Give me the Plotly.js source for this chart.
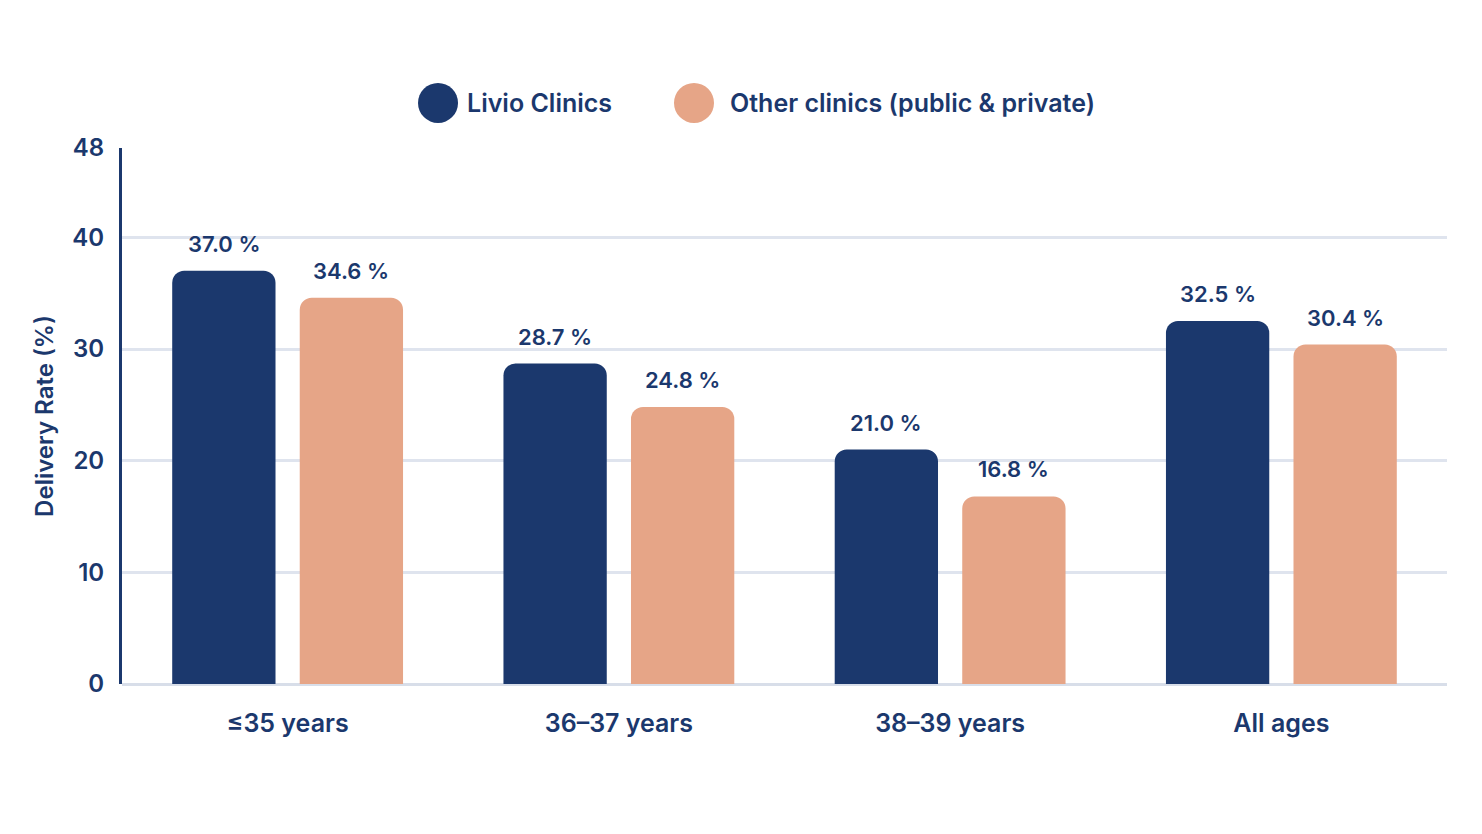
<!DOCTYPE html>
<html>
<head>
<meta charset="utf-8">
<script src="https://cdn.plot.ly/plotly-3.0.1.min.js"></script>
<style>
  html, body { margin: 0; padding: 0; background: #ffffff; }
  #chart { width: 1482px; height: 834px; }
</style>
</head>
<body>
<div id="chart"></div>
<script>
// age groups and delivery rates (%)
var ageGroups = ["\u226435 years", "36\u201337 years", "38\u201339 years", "All ages"];
var livioRates = [37.0, 28.7, 21.0, 32.5];
var otherRates = [34.6, 24.8, 16.8, 30.4];
var seriesNames = ["Livio Clinics", "Other clinics (public & private)"];
var yTicks = [0, 10, 20, 30, 40, 48];

var navy = "#1b386d";
var salmon = "#e6a587";
var fontFam = "Inter, 'Noto Sans', sans-serif";

var plotW = 1482 - 122 - 35;
var bargap = 0.23;
var slotW = plotW / ageGroups.length * (1 - bargap) / 2;

function barTrace(name, vals, color) {
  return {
    type: "bar",
    name: name,
    x: ageGroups,
    y: vals,
    marker: { color: color, cornerradius: 12 },
    hoverinfo: "x+y",
    showlegend: false
  };
}

var data = [
  barTrace(seriesNames[0], livioRates, navy),
  barTrace(seriesNames[1], otherRates, salmon)
];

var annotations = [];
// value labels above each bar
[livioRates, otherRates].forEach(function (vals, s) {
  vals.forEach(function (v, k) {
    annotations.push({
      x: ageGroups[k], y: v, xref: "x", yref: "y",
      xshift: (s === 0 ? -1 : 1) * slotW / 2,
      yshift: 12, yanchor: "bottom", xanchor: "center",
      showarrow: false, text: v.toFixed(1) + " %",
      font: { family: fontFam, size: 22, color: navy, weight: 600 }
    });
  });
});

// hand-made legend with big round markers
var legendColors = [navy, salmon];
var legendX = [0.2385, 0.4317];
var shapes = [];
for (var i = 0; i < seriesNames.length; i++) {
  shapes.push({
    type: "circle", xref: "paper", yref: "paper",
    xsizemode: "pixel", ysizemode: "pixel",
    xanchor: legendX[i], yanchor: 1.084,
    x0: -20, x1: 20, y0: -20, y1: 20,
    fillcolor: legendColors[i], line: { width: 0 }
  });
  annotations.push({
    xref: "paper", yref: "paper", x: legendX[i], y: 1.084,
    xanchor: "left", yanchor: "middle", xshift: i === 0 ? 27 : 34,
    showarrow: false, text: seriesNames[i],
    font: { family: fontFam, size: 25, color: navy, weight: 600 }
  });
}

var layout = {
  width: 1482,
  height: 834,
  paper_bgcolor: "#ffffff",
  plot_bgcolor: "#ffffff",
  margin: { l: 122, r: 35, t: 148, b: 150 },
  barmode: "group",
  bargap: bargap,
  bargroupgap: 0.19,
  showlegend: false,
  font: { family: fontFam, color: navy },
  xaxis: {
    type: "category",
    tickfont: { family: fontFam, size: 25, color: navy, weight: 600 },
    ticks: "",
    ticklabelstandoff: 22,
    showgrid: false,
    showline: false,
    zeroline: false
  },
  yaxis: {
    range: [0, 48],
    tickvals: yTicks,
    ticktext: yTicks.map(String),
    tickfont: { family: fontFam, size: 24, color: navy, weight: 600 },
    ticks: "",
    ticklabelstandoff: 10,
    showgrid: true,
    gridcolor: "#dfe4ee",
    gridwidth: 3,
    zeroline: true,
    zerolinecolor: "#d8dee9",
    zerolinewidth: 3,
    showline: true,
    linecolor: navy,
    linewidth: 3,
    title: {
      text: "Delivery Rate (%)",
      font: { family: fontFam, size: 24, color: navy, weight: 600 },
      standoff: 12
    }
  },
  shapes: shapes,
  annotations: annotations
};

Plotly.newPlot("chart", data, layout, { displayModeBar: false, staticPlot: true });
</script>
</body>
</html>
